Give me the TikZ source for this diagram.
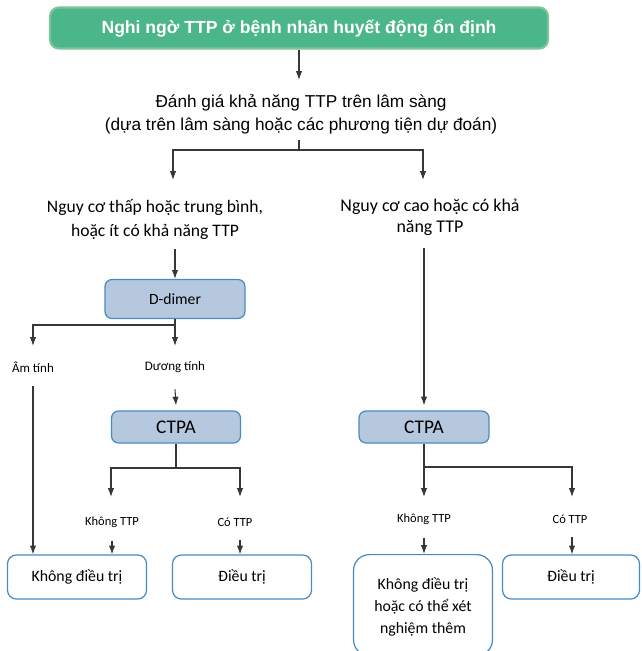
\documentclass[tikz,border=0pt]{standalone}
\usepackage{fontspec}
\setmainfont{Carlito}
\newfontfamily\arialfont{Liberation Sans}
\usetikzlibrary{arrows.meta}

\definecolor{ttpgreen}{RGB}{75,182,138}
\definecolor{ttpedge}{RGB}{125,195,155}
\definecolor{boxblue}{RGB}{182,200,222}
\definecolor{boxedge}{RGB}{70,140,195}
\definecolor{linegray}{RGB}{55,55,55}

\tikzset{
  titlebox/.style={rounded corners=5pt, fill=ttpgreen, draw=ttpedge, line width=1.2pt,
    text=white, font=\arialfont\bfseries\fontsize{10}{12}\selectfont,
    minimum width=9.96cm, minimum height=0.82cm},
  testbox/.style={rounded corners=4pt, fill=boxblue, draw=boxedge, line width=0.7pt,
    minimum height=0.64cm},
  endbox/.style={rounded corners=5pt, draw=boxedge, fill=white, line width=0.7pt,
    minimum width=2.78cm, minimum height=0.88cm, font=\fontsize{9}{12.5}\selectfont, align=center},
  smalllbl/.style={font=\fontsize{7.4}{8}\selectfont},
  ttplbl/.style={font=\fontsize{7.1}{8}\selectfont},
  conn/.style={draw=linegray, line width=0.6pt},
  arr/.style={conn, -{Latex[length=5pt,width=3.6pt]}}
}

\begin{document}
\begin{tikzpicture}[x=0.02cm, y=-0.02cm]
  \useasboundingbox (0,0) rectangle (641,651);
  \clip (0,0) rectangle (641,651);

  % top
  \node[titlebox] (title) at (299,28) {Nghi ngờ TTP ở bệnh nhân huyết động ổn định};
  \node[font=\arialfont\fontsize{9.8}{13}\selectfont, align=center] (eval) at (301,114)
    {Đánh giá khả năng TTP trên lâm sàng\\(dựa trên lâm sàng hoặc các phương tiện dự đoán)};
  \coordinate (evalin) at (299,80);
  \coordinate (s1) at (299,150);
  \coordinate (lowin) at (173,180);
  \coordinate (highin) at (423,180);

  % two branches
  \node[font=\fontsize{10}{13.6}\selectfont, align=center] (low) at (155,219)
    {Nguy cơ thấp hoặc trung bình,\\hoặc ít có khả năng TTP};
  \node[font=\fontsize{10.2}{12}\selectfont, align=center] (high) at (430,217)
    {Nguy cơ cao hoặc có khả\\năng TTP};

  % left branch
  \node[testbox, minimum width=2.8cm, minimum height=0.78cm, font=\fontsize{8.9}{10}\selectfont] (ddimer) at (175,299) {D-dimer};
  \coordinate (s2) at (175,325);
  \coordinate (negin) at (33,346);
  \coordinate (posin) at (175,346);
  \node[smalllbl] (neg) at (33,367) {Âm tính};
  \node[smalllbl] (pos) at (175,367) {Dương tính};
  \node[testbox, minimum width=2.58cm, font=\fontsize{11}{12}\selectfont] (ctpaL) at (176,427) {CTPA};
  \coordinate (s3) at (176,468);
  \coordinate (noLin) at (111,497);
  \coordinate (yesLin) at (240,497);
  \node[ttplbl] (noL) at (112,522) {Không TTP};
  \node[ttplbl] (yesL) at (235,522) {Có TTP};
  \node[endbox] (treatNo) at (77,577) {Không điều trị};
  \node[endbox] (treatL) at (242,577) {Điều trị};

  % right branch
  \node[testbox, minimum width=2.6cm, font=\fontsize{11}{12}\selectfont] (ctpaR) at (424,427) {CTPA};
  \coordinate (s4) at (424,467);
  \coordinate (noRin) at (424,497);
  \coordinate (yesRin) at (572,497);
  \node[ttplbl] (noR) at (424,519) {Không TTP};
  \node[ttplbl] (yesR) at (570,519) {Có TTP};
  \node[endbox, rounded corners=9pt, minimum height=2.02cm, anchor=north, text depth=0pt] (moreR) at (423,554)
    {Không điều trị\\hoặc có thể xét\\nghiệm thêm};
  \node[endbox, minimum width=2.74cm] (treatR) at (571,577) {Điều trị};

  % connectors
  \draw[arr] (title.south) -- (evalin);
  \draw[conn] (s1 |- eval.south) -- (s1);
  \draw[arr] (s1) -| (lowin);
  \draw[arr] (s1) -| (highin);
  \draw[arr] (ddimer.north |- low.south) ++(0,4) -- (ddimer.north);
  \draw[arr] (ctpaR.north |- high.south) ++(0,6) -- ([yshift=2.8pt]ctpaR.north);
  \draw[conn] (ddimer.south) -- (s2);
  \draw[arr] (s2) -| (negin);
  \draw[arr] (s2) -- (posin);
  \draw[arr] ([yshift=-4pt]neg.south) -- (neg.south |- treatNo.north);
  \draw[arr] ([yshift=-6pt]pos.south) -- ([yshift=2.8pt]ctpaL.north);
  \draw[conn] (ctpaL.south) -- (s3);
  \draw[arr] (s3) -| (noLin);
  \draw[arr] (s3) -| (yesLin);
  \draw[arr] ([yshift=-4pt]noL.south) -- (noL.south |- treatNo.north);
  \draw[arr] ([yshift=-4pt]yesLin |- yesL.south) -- (yesLin |- treatL.north);
  \draw[conn] (ctpaR.south) -- (s4);
  \draw[arr] (s4) -- (noRin);
  \draw[arr] (s4) -| (yesRin);
  \draw[arr] ([yshift=-4pt]noR.south) -- (noR.south |- moreR.north);
  \draw[arr] ([yshift=-4pt]yesRin |- yesR.south) -- (yesRin |- treatR.north);
\end{tikzpicture}
\end{document}
